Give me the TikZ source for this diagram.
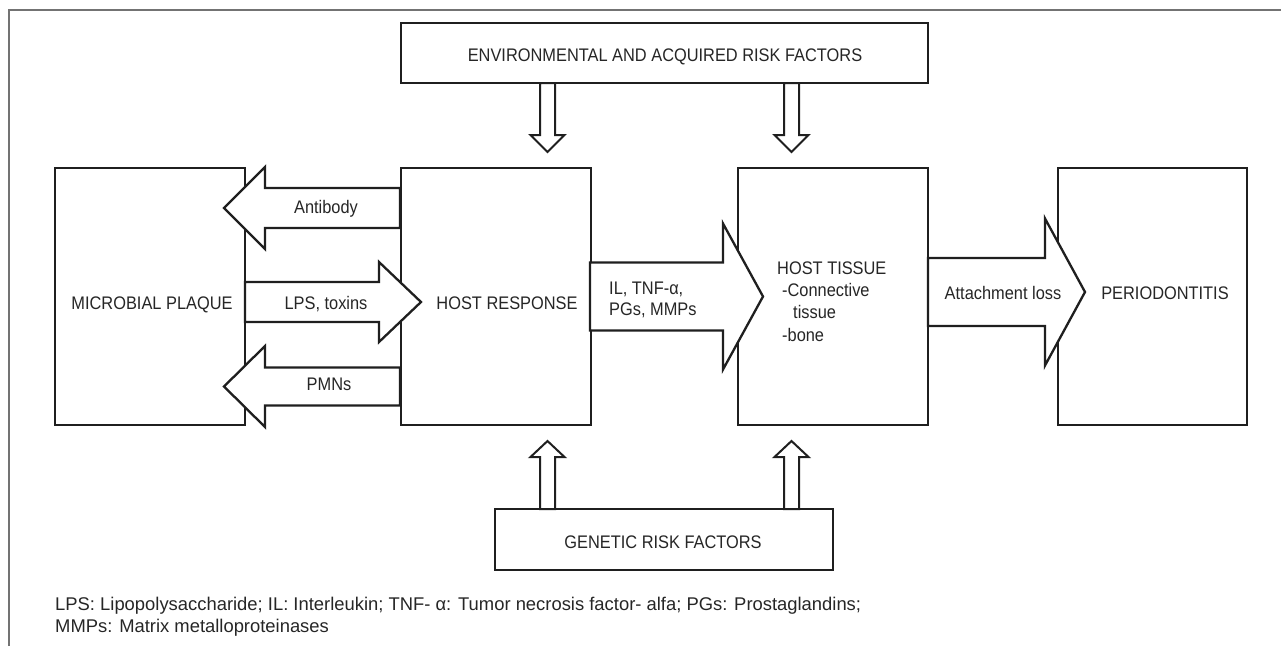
\documentclass[tikz,border=0pt]{standalone}
\usepackage{fontspec}
\setmainfont{Liberation Sans}[FakeStretch=0.9]
\newfontfamily\notefont{Liberation Sans}
\begin{document}
\begin{tikzpicture}[x=1pt,y=-1pt,
  blk/.style={draw=black!88,line width=2.3pt,line join=miter},
  box/.style={blk,rectangle,inner sep=0pt,fill=white},
  lbl/.style={inner sep=0pt,anchor=base,font=\fontsize{18.2}{21}\selectfont,text=black!85},
  lblw/.style={lbl,anchor=base west},
  note/.style={inner sep=0pt,anchor=base west,font=\notefont\fontsize{18.4}{22}\selectfont,text=black!85},
  frame/.style={draw=black!55,line width=1.4pt}]
\useasboundingbox (0,0) rectangle (1282,646);
% frame
\coordinate (fl) at (9,646);
\coordinate (fc) at (9,10);
\coordinate (fr) at (1281,10);
\draw[frame] (fl) -- (fc) -- (fr);
% boxes
\node[box,minimum width=527pt,minimum height=60pt] (env) at (664.5,53) {};
\node[box,minimum width=190pt,minimum height=257pt] (mp) at (150,296.5) {};
\node[box,minimum width=190pt,minimum height=257pt] (hr) at (496,296.5) {};
\node[box,minimum width=190pt,minimum height=257pt] (ht) at (833,296.5) {};
\node[box,minimum width=189pt,minimum height=257pt] (pd) at (1152.5,296.5) {};
\node[box,minimum width=338pt,minimum height=61pt] (gen) at (664,539.5) {};
% block arrows: horizontal (x0, head base, tip, yc, body half, head half)
\newcommand{\harrow}[6]{%
  \draw[blk,fill=white] ({#1},{#4-#5}) -- ({#2},{#4-#5}) -- ({#2},{#4-#6}) -- ({#3},{#4})
    -- ({#2},{#4+#6}) -- ({#2},{#4+#5}) -- ({#1},{#4+#5}) -- cycle;}
% vertical (xc, y0, head base, tip, body half, head half)
\newcommand{\varrow}[6]{%
  \draw[blk,line width=2pt,fill=white] ({#1-#5},{#2}) -- ({#1-#5},{#3}) -- ({#1-#6},{#3}) -- ({#1},{#4})
    -- ({#1+#6},{#3}) -- ({#1+#5},{#3}) -- ({#1+#5},{#2}) -- cycle;}
\harrow{400}{265}{224}{208}{20}{41}
\harrow{245}{379}{421}{302}{20}{40}
\harrow{400}{265}{224}{386.5}{19}{40.5}
\harrow{590}{723}{763}{296.5}{34}{73}
\harrow{928}{1045}{1085}{292}{34}{73.5}
\varrow{547.5}{83}{135}{152}{7.5}{17}
\varrow{791.5}{83}{135}{152}{7.5}{17}
\varrow{547.5}{509}{457}{441}{7.5}{17}
\varrow{791.5}{509}{457}{441}{7.5}{17}
% labels
\node[lbl] (tenv) at (665,61.5) {ENVIRONMENTAL AND ACQUIRED RISK FACTORS};
\node[lbl] (tmp) at (152,309.5) {MICROBIAL PLAQUE};
\node[lbl] (thr) at (507,309.5) {HOST RESPONSE};
\node[lbl] (tab) at (326,213.5) {Antibody};
\node[lbl] (tlps) at (326,309.5) {LPS, toxins};
\node[lbl] (tpmn) at (329,390.5) {PMNs};
\node[lblw] (til1) at (609,294.5) {IL, TNF-α,};
\node[lblw] (til2) at (609,315.5) {PGs, MMPs};
\node[lblw] (tht1) at (777,274.5) {HOST TISSUE};
\node[lblw] (tht2) at (782,296.5) {-Connective};
\node[lblw] (tht3) at (793,318.5) {tissue};
\node[lblw] (tht4) at (782,341) {-bone};
\node[lbl] (tal) at (1003,299.5) {Attachment loss};
\node[lbl] (tpd) at (1165,299.5) {PERIODONTITIS};
\node[lbl] (tgen) at (663,548.5) {GENETIC RISK FACTORS};
\node[note] (n1) at (55,610.5) {LPS: Lipopolysaccharide; IL: Interleukin; TNF- α: Tumor necrosis factor- alfa; PGs: Prostaglandins;};
\node[note] (n2) at (55,632.5) {MMPs: Matrix metalloproteinases};
\end{tikzpicture}
\end{document}
